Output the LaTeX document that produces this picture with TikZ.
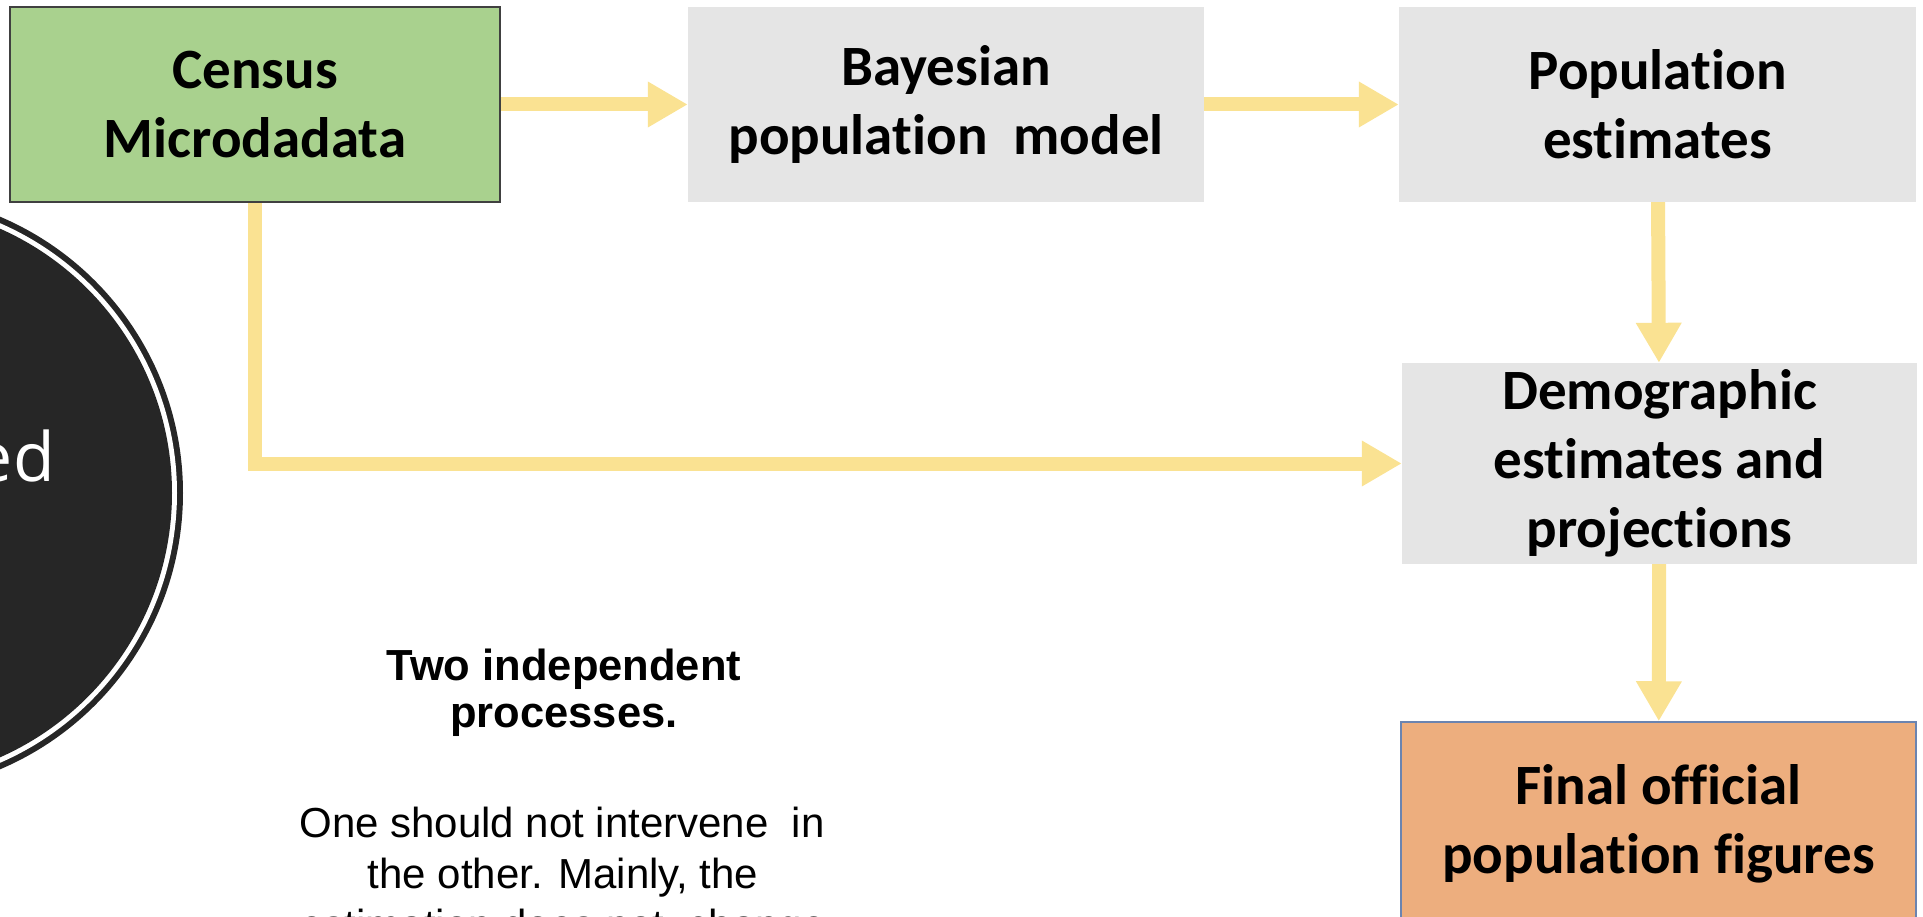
\documentclass[tikz,border=0pt]{standalone}
\usepackage{fontspec}
\setmainfont{Carlito}[RawFeature=-liga]
\newfontfamily\arialfont{Liberation Sans}
\newfontfamily\badgefont{Open Sans}
\usetikzlibrary{arrows.meta}
\definecolor{censusgreen}{HTML}{A9D18E}
\definecolor{censusedge}{HTML}{404040}
\definecolor{boxgray}{HTML}{E5E5E5}
\definecolor{finalorange}{HTML}{EDAE7E}
\definecolor{outlineblue}{HTML}{6B84B0}
\definecolor{flowgold}{HTML}{FAE292}
\definecolor{inkdark}{HTML}{262626}
\begin{document}
\begin{tikzpicture}[x=1pt,y=-1pt,
  stage/.style={rectangle, inner sep=0pt, align=center, text=black,
    font=\fontsize{57}{69}\selectfont\bfseries},
  graybox/.style={stage, fill=boxgray},
  flow/.style={draw=flowgold, line width=14pt, line join=miter,
    -{Triangle[length=40pt,width=43pt]}},
  disc/.style={circle, inner sep=0pt},
  headfont/.style={font=\arialfont\bfseries\fontsize{43.5}{48}\selectfont, inner sep=0pt},
  bodyfont/.style={font=\arialfont\fontsize{42}{48}\selectfont, inner sep=0pt},
]
\useasboundingbox (0,0) rectangle (1923,917);
\begin{scope}
\clip (0,0) rectangle (1923,917);

% dark badge on the left edge: outer ring, white gap, core
\node[disc, fill=inkdark, minimum size=600pt] (badge) at (-117,493) {};
\node[disc, fill=white, minimum size=588pt] (badgegap) at (badge.center) {};
\node[disc, fill=inkdark, minimum size=578pt] (badgecore) at (badge.center) {};
\node[anchor=base east, text=white, inner sep=0pt,
  font=\badgefont\fontsize{68}{80}\selectfont] (badgetext) at (55,481) {ed};

% process boxes
\node[stage, fill=censusgreen, draw=censusedge, line width=2.5pt,
  minimum width=490pt, minimum height=195pt] (census) at (255,104.5)
  {Census\\Microdadata};
\node[graybox, minimum width=516pt, minimum height=195pt] (bayes) at (946,104.5)
  {Bayesian\\population\ \ model};
\node[graybox, minimum width=517pt, minimum height=195pt] (pop) at (1657.5,104.5)
  {Population\\estimates};
\node[graybox, minimum width=515pt, minimum height=201pt] (demo) at (1659.5,463.5)
  {Demographic\\estimates and\\projections};
\node[stage, fill=finalorange, draw=outlineblue, line width=1.5pt,
  minimum width=515pt, minimum height=204pt] (final) at (1658.5,824)
  {Final official\\population figures};

% connectors
\draw[flow] (census) -- (bayes);
\draw[flow] (bayes) -- (pop);
\draw[flow] (pop) -- (demo);
\draw[flow] (demo) -- (final);
\draw[flow] (census.south) |- (demo.west);

% note
\node[headfont, anchor=base] (head1) at (564,680) {Two independent};
\node[headfont, anchor=base] (head2) at (564,727) {processes.};
\node[bodyfont, anchor=base] (body1) at (562,837) {One should not intervene\ \ in};
\node[bodyfont, anchor=base] (body2) at (563,888) {the other. Mainly, the};
\node[bodyfont, anchor=base] (body3) at (563,939) {estimation does not\ \ change};
\end{scope}
\end{tikzpicture}
\end{document}
